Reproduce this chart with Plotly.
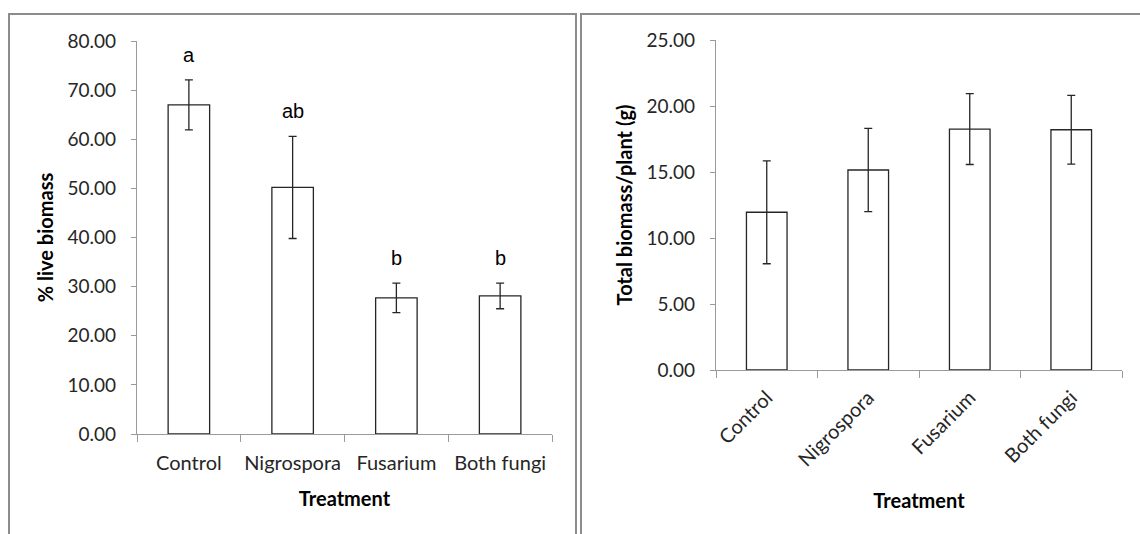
import plotly.graph_objects as go

treatments = ["Control", "Nigrospora", "Fusarium", "Both fungi"]
live_pct = [67.0, 50.2, 27.7, 28.1]
live_err = [5.1, 10.4, 3.0, 2.6]
letters = ["a", "ab", "b", "b"]
total_bio = [11.95, 15.15, 18.25, 18.2]
total_err = [3.9, 3.15, 2.68, 2.6]

W, H = 1140, 534
FONT = "Lato"
AX = "#9a9a9a"
TXT = "#262626"

fig = go.Figure()

bar_style = dict(marker=dict(color="white", line=dict(color="#262626", width=1.3)),
                 showlegend=False, hoverinfo="skip")
err_style = dict(type="data", visible=True, color="#262626", thickness=1.3, width=4)

fig.add_trace(go.Bar(x=treatments, y=live_pct,
                     error_y=dict(array=live_err, **err_style),
                     xaxis="x", yaxis="y", **bar_style))
fig.add_trace(go.Bar(x=treatments, y=total_bio,
                     error_y=dict(array=total_err, **err_style),
                     xaxis="x2", yaxis="y2", **bar_style))

for t, v, e, l in zip(treatments, live_pct, live_err, letters):
    fig.add_annotation(x=t, y=v + e, xref="x", yref="y", text=l, showarrow=False,
                       yanchor="bottom", yshift=12,
                       font=dict(family="Liberation Sans", size=20, color="black"))

axis_common = dict(showline=True, linecolor=AX, linewidth=1.3, ticks="outside",
                   tickcolor=AX, tickwidth=1.3, showgrid=False, zeroline=False,
                   automargin=False)

def yax(rng, dtick, dom, title, anchor, standoff):
    return dict(axis_common, range=rng, dtick=dtick, tickformat=".2f", domain=dom,
                anchor=anchor, ticklen=5, ticklabelstandoff=11,
                tickfont=dict(family=FONT, size=19, color=TXT),
                title=dict(text="<b>" + title + "</b>", standoff=standoff,
                           font=dict(family=FONT, size=20, color="black")))

def xax(dom, anchor, angle, lblstand, standoff):
    return dict(axis_common, domain=dom, anchor=anchor, tickson="boundaries",
                ticklen=7, tickangle=angle, type="category",
                ticklabelstandoff=lblstand,
                tickfont=dict(family=FONT, size=20, color=TXT),
                title=dict(text="<b>Treatment</b>", standoff=standoff,
                           font=dict(family=FONT, size=20, color="black")))

fig.update_layout(
    width=W, height=H,
    margin=dict(l=0, r=0, t=0, b=0, autoexpand=False),
    paper_bgcolor="white", plot_bgcolor="white",
    bargap=0.6,
    xaxis=xax([137 / W, 552 / W], "y", 0, 11, 18),
    yaxis=yax([0, 80], 10, [(H - 434) / H, (H - 41) / H], "% live biomass", "x", 8),
    xaxis2=xax([716 / W, 1122 / W], "y2", -45, 7, 24),
    yaxis2=yax([0, 25], 5, [(H - 370) / H, (H - 40) / H], "Total biomass/plant (g)", "x2", 8),
    shapes=[
        dict(type="rect", xref="paper", yref="paper", x0=9 / W, x1=576 / W,
             y0=-0.05, y1=(H - 14) / H, line=dict(color="#8c8c8c", width=2)),
        dict(type="rect", xref="paper", yref="paper", x0=581 / W, x1=1.05,
             y0=-0.05, y1=(H - 14) / H, line=dict(color="#8c8c8c", width=2)),
    ],
)

fig.write_html("out.html")
